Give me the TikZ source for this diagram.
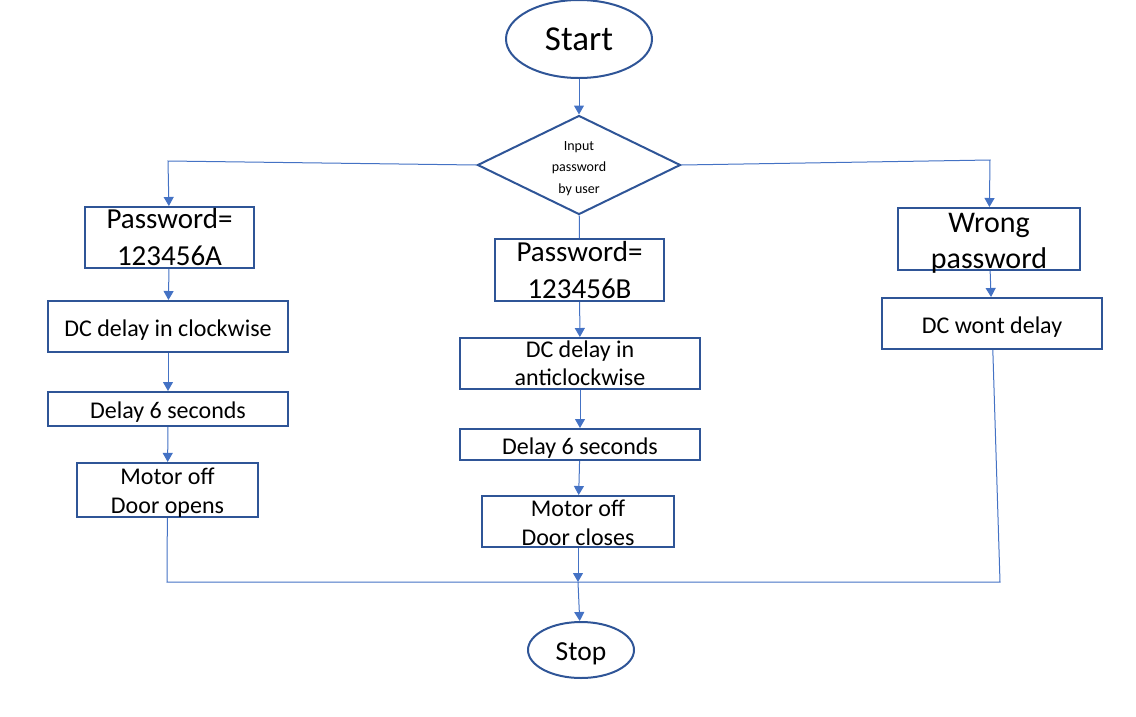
\documentclass[tikz,border=0pt]{standalone}
\usepackage{fontspec}
\setmainfont{Carlito}
\usepackage{tikz}
\usetikzlibrary{arrows.meta}
\usetikzlibrary{shapes.geometric}

\definecolor{boxblue}{HTML}{2F5597}
\definecolor{lineblue}{HTML}{4472C4}
\newcommand{\strutdown}[1][6pt]{\rule{0pt}{\dimexpr0.72em+#1\relax}}

\begin{document}
\begin{tikzpicture}[x=1pt,y=-1pt,
	txt/.style={font=\fontsize{24}{28}\selectfont},
	bigtxt/.style={font=\fontsize{29}{37}\selectfont}]
	\useasboundingbox (0,0) rectangle (1136,716);

	\begin{scope}[every node/.style={draw=boxblue, line width=2pt, inner sep=0pt, align=center}]
		\node[ellipse, minimum width=146pt, minimum height=78pt, font=\fontsize{35}{42}\selectfont] (1) at (579,39) {Start};
		\node[diamond, aspect=2.05, minimum width=203pt, minimum height=99pt, font=\fontsize{14}{21.5}\selectfont] (2) at (579,165) {\strutdown Input\\password\\by user};
		\node[bigtxt, minimum width=169pt, minimum height=61pt] (3) at (169.5,237.5) {Password=\\123456A};
		\node[txt, minimum width=240pt, minimum height=51pt] (4) at (168,326.5) {\strutdown DC delay in clockwise};
		\node[txt, minimum width=240pt, minimum height=34pt] (5) at (168,409) {\strutdown[5pt]Delay 6 seconds};
		\node[txt, font=\fontsize{24}{29}\selectfont, minimum width=181pt, minimum height=52pt] (6) at (167.5,490) {\strutdown[4pt]Motor off\\Door opens};
		\node[bigtxt, minimum width=169pt, minimum height=62pt] (7) at (579.5,270) {Password=\\123456B};
		\node[txt, minimum width=240pt, minimum height=51pt] (8) at (580,363.5) {DC delay in\\anticlockwise};
		\node[txt, minimum width=240pt, minimum height=31pt] (9) at (580,444.5) {\strutdown Delay 6 seconds};
		\node[txt, font=\fontsize{24}{29}\selectfont, minimum width=192pt, minimum height=51pt] (10) at (578,521.5) {\strutdown[2pt]Motor off\\Door closes};
		\node[font=\fontsize{30}{36}\selectfont, text height=60pt, text depth=2pt, minimum width=182pt, minimum height=62pt] (11) at (989,239) {Wrong\\password};
		\node[txt, minimum width=220pt, minimum height=51pt] (12) at (992,323.5) {\strutdown DC wont delay};
		\node[ellipse, minimum width=106pt, minimum height=56pt, font=\fontsize{27.5}{32}\selectfont] (13) at (581,650) {\strutdown Stop};
	\end{scope}

	\coordinate (a) at (168,161);
	\coordinate (b) at (990,160);
	\coordinate (c) at (167,582);
	\coordinate (d) at (1000,582);
	\coordinate (e) at (578,582);

	\begin{scope}[>={Triangle[length=9pt,width=10pt]},
	              every edge/.style={draw=lineblue, line width=1pt}]
		\path (1) edge[->] (2);
		\draw[lineblue, line width=1pt, ->] (2.west) -- (a) -- (3);
		\draw[lineblue, line width=1pt, ->] (2.east) -- (b) -- (11);
		\path (2) edge (7);
		\path (3) edge[->] (4);
		\path (4) edge[->] (5);
		\path (5) edge[->] (6);
		\path (7) edge[->] (8);
		\path (8) edge[->] (9);
		\path (9) edge[->] (10);
		\path (11) edge[->] (12);
		\draw[lineblue, line width=1pt] (6) -- (c) -- (d) -- (12);
		\path (10) edge[->] (e);
		\path (e) edge[->] (13);
	\end{scope}
\end{tikzpicture}
\end{document}
